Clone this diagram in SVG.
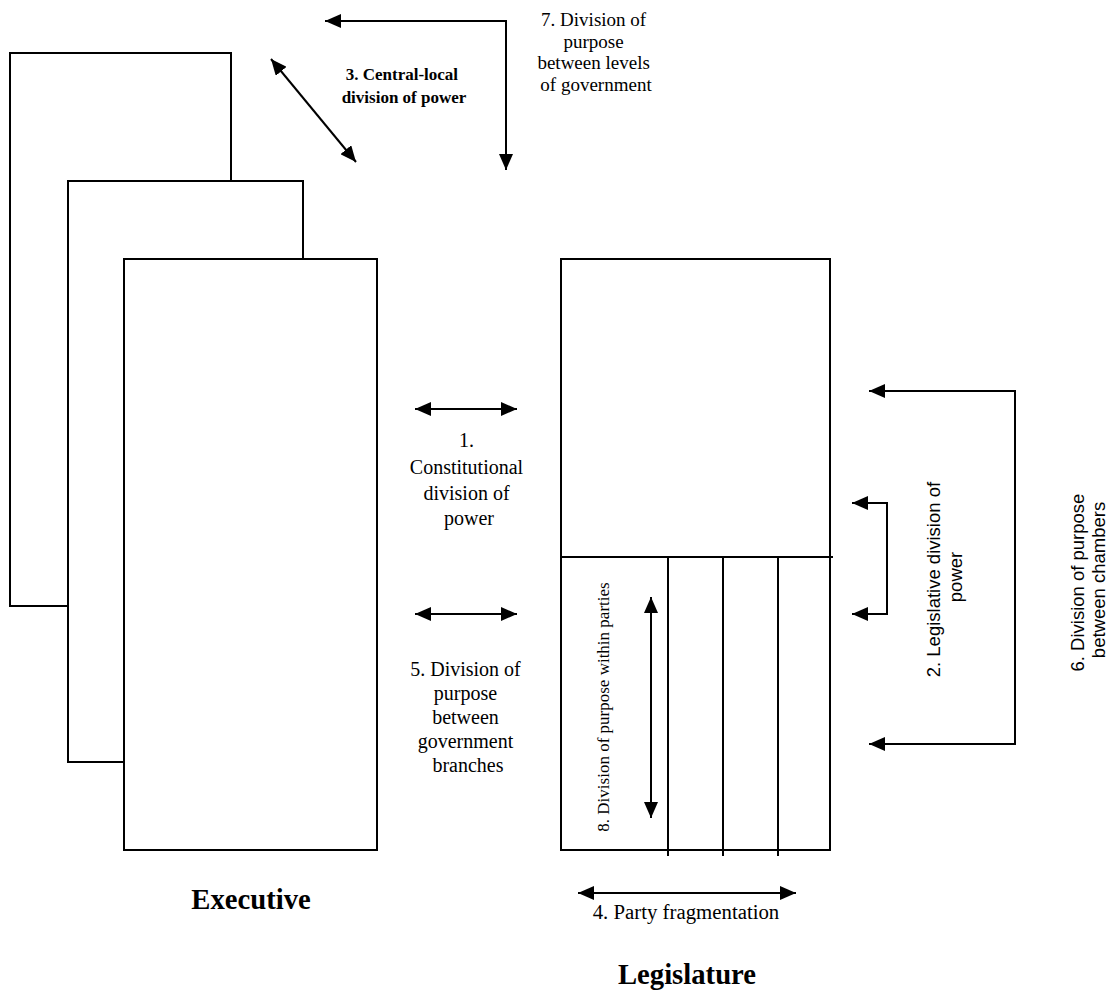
<svg xmlns="http://www.w3.org/2000/svg" width="1107" height="992" viewBox="0 0 1107 992">
<style>
.box{fill:#fff;stroke:#000;stroke-width:2}
.ln{fill:none;stroke:#000;stroke-width:2}
.ar{fill:none;stroke:#000;stroke-width:2}
.serif{font-family:"Liberation Serif","Times New Roman",serif;fill:#000}
.sans{font-family:"Liberation Sans",Arial,sans-serif;fill:#000}
</style>
<defs>
<marker id="ah" markerUnits="userSpaceOnUse" markerWidth="18" markerHeight="14" refX="16" refY="7" orient="auto-start-reverse">
<path d="M0,0 L16,7 L0,14 z" fill="#000"/>
</marker>
</defs>
<rect width="1107" height="992" fill="#fff"/>
<g id="executive">
<rect class="box" x="10" y="53" width="221" height="553"/>
<rect class="box" x="68" y="181" width="235" height="581"/>
<rect class="box" x="124" y="259" width="253" height="591"/>
<text class="serif" x="251" y="909" font-size="28.7" font-weight="bold" text-anchor="middle">Executive</text>
</g>
<g id="legislature">
<rect class="box" x="561" y="259" width="269" height="591"/>
<line class="ln" x1="561" y1="557" x2="833" y2="557"/>
<line class="ln" x1="668" y1="557" x2="668" y2="856"/>
<line class="ln" x1="723" y1="557" x2="723" y2="856"/>
<line class="ln" x1="778" y1="557" x2="778" y2="856"/>
<text class="serif" x="687" y="984" font-size="28.7" font-weight="bold" text-anchor="middle">Legislature</text>
</g>
<g id="connectors">
<line class="ar" x1="271" y1="59" x2="356" y2="162" stroke-width="1.5" marker-start="url(#ah)" marker-end="url(#ah)"/>
<polyline class="ar" points="506,170 506,21 325,21" marker-start="url(#ah)" marker-end="url(#ah)"/>
<line class="ar" x1="415" y1="409" x2="517" y2="409" marker-start="url(#ah)" marker-end="url(#ah)"/>
<line class="ar" x1="415" y1="614" x2="517" y2="614" marker-start="url(#ah)" marker-end="url(#ah)"/>
<polyline class="ar" points="852,503 887,503 887,614 852,614" marker-start="url(#ah)" marker-end="url(#ah)"/>
<polyline class="ar" points="869,391 1015,391 1015,744 869,744" marker-start="url(#ah)" marker-end="url(#ah)"/>
<line class="ar" x1="651" y1="597" x2="651" y2="818" marker-start="url(#ah)" marker-end="url(#ah)"/>
<line class="ar" x1="578" y1="893" x2="796" y2="893" marker-start="url(#ah)" marker-end="url(#ah)"/>
</g>
<g id="labels">
<text class="serif" font-size="19" text-anchor="middle">
<tspan x="596" y="26">7. Division of</tspan>
<tspan x="596" y="48">purpose</tspan>
<tspan x="596" y="69">between levels</tspan>
<tspan x="596" y="91">of government</tspan>
</text>
<text class="serif" font-size="17" font-weight="bold" fill="#222" text-anchor="middle">
<tspan x="404" y="80">3. Central-local</tspan>
<tspan x="404" y="103">division of power</tspan>
</text>
<text class="serif" font-size="20" text-anchor="middle">
<tspan x="469" y="447">1.</tspan>
<tspan x="469" y="474">Constitutional</tspan>
<tspan x="469" y="500">division of</tspan>
<tspan x="469" y="525">power</tspan>
</text>
<text class="serif" font-size="20" text-anchor="middle">
<tspan x="468" y="676">5. Division of</tspan>
<tspan x="468" y="700">purpose</tspan>
<tspan x="468" y="724">between</tspan>
<tspan x="468" y="748">government</tspan>
<tspan x="468" y="772">branches</tspan>
</text>
<text class="serif" font-size="20.8" x="686" y="919" text-anchor="middle">4. Party fragmentation</text>
<text class="serif" font-size="17" fill="#444" text-anchor="middle" transform="translate(609,707) rotate(-90)">8. Division of purpose within parties</text>
<text class="sans" font-size="18.5" text-anchor="middle" transform="translate(940,577) rotate(-90)">
<tspan x="0" y="0">2. Legislative division of</tspan>
<tspan x="0" y="22">power</tspan>
</text>
<text class="sans" font-size="18.5" text-anchor="middle" transform="translate(1084,580) rotate(-90)">
<tspan x="0" y="0">6. Division of purpose</tspan>
<tspan x="0" y="21">between chambers</tspan>
</text>
</g>
</svg>
